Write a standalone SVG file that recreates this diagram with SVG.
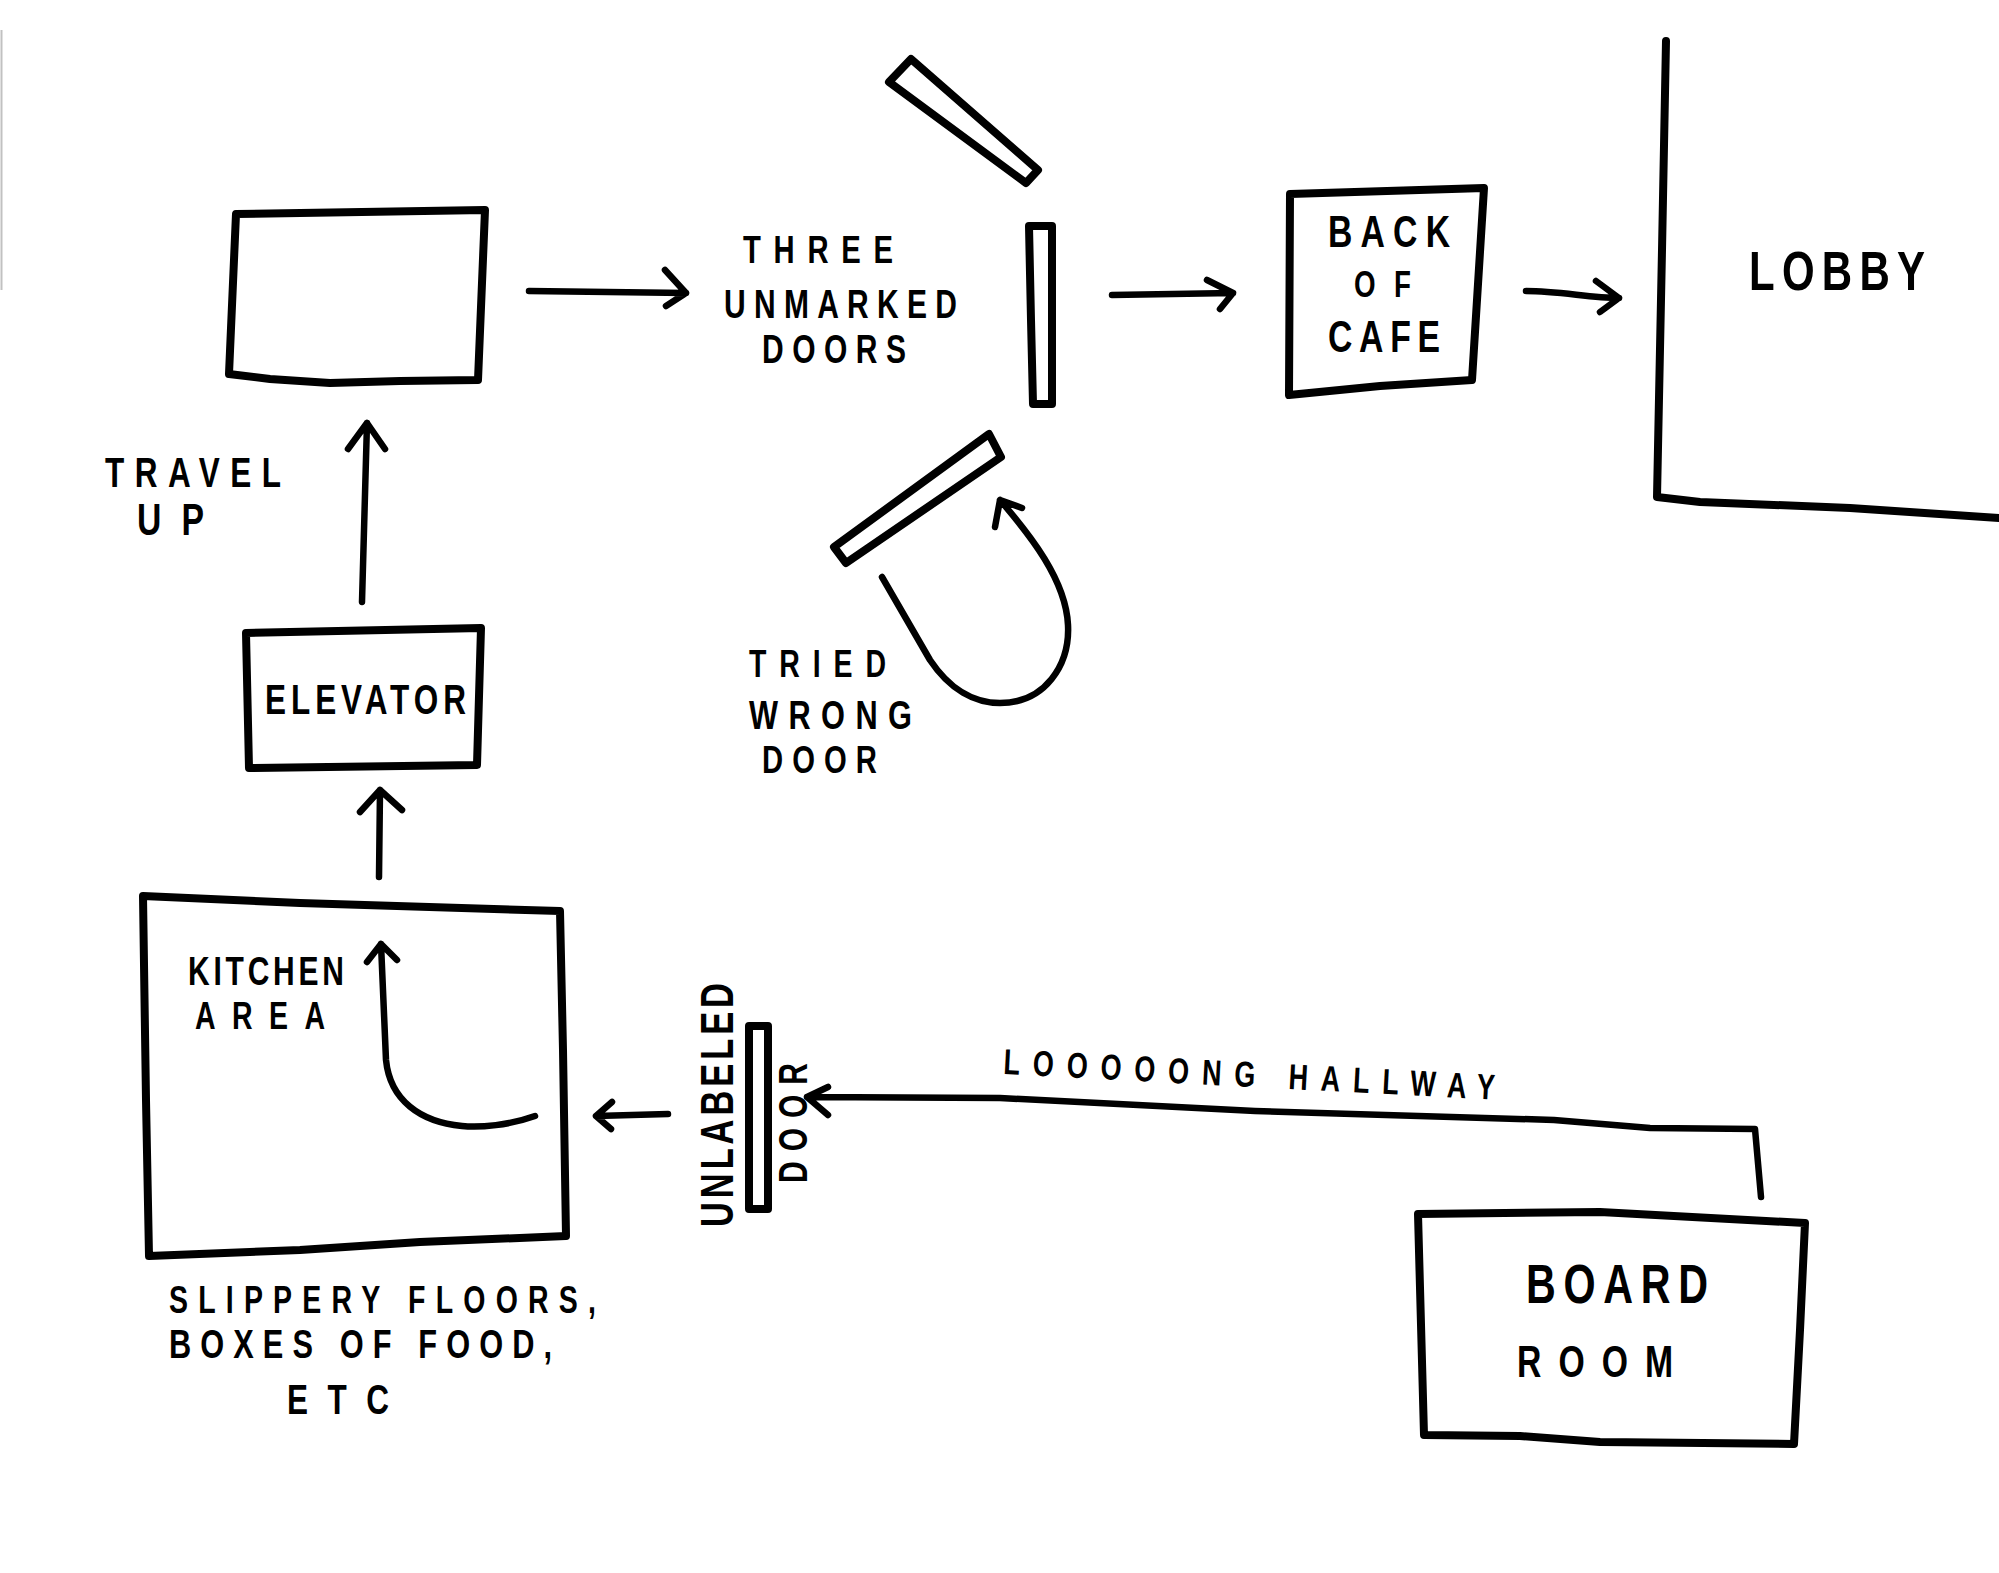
<svg xmlns="http://www.w3.org/2000/svg" width="1999" height="1573" viewBox="0 0 1999 1573">
<style>
.b{fill:none;stroke:#000;stroke-width:8;stroke-linejoin:round;stroke-linecap:round}
.c{fill:none;stroke:#000;stroke-width:6.5;stroke-linejoin:round;stroke-linecap:round}
.t{font-family:"Liberation Sans","DejaVu Sans",Arial,sans-serif;font-weight:bold;fill:#000}
</style>
<rect width="1999" height="1573" fill="#fff"/>
<line x1="1.5" y1="30" x2="1.5" y2="290" stroke="#999" stroke-width="2" opacity="0.6"/>

<g id="floor-box">
<path class="b" d="M236,214 L485,210 L478,380 L400,381 L330,383 L270,379 L229,374 Z"/>
</g>

<g id="three-doors-label" transform="scale(0.75,1)">
<text class="t" x="990.7" y="263" font-size="39" textLength="200" lengthAdjust="spacing">THREE</text>
<text class="t" x="965.3" y="318" font-size="40" textLength="310.7" lengthAdjust="spacing">UNMARKED</text>
<text class="t" x="1016" y="363" font-size="40" textLength="192" lengthAdjust="spacing">DOORS</text>
</g>

<g id="door-top">
<path class="b" d="M911,59 L1038,170 L1026,183 L889,82 Z"/>
</g>
<g id="door-middle">
<path class="b" d="M1029,226 L1052,226 L1052,404 L1033,404 L1031,320 Z"/>
</g>
<g id="door-bottom">
<path class="b" d="M834,547 L846,563 L1001,457 L989,434 Z"/>
</g>

<g id="tried-wrong-door-label" transform="scale(0.75,1)">
<text class="t" x="998.7" y="677" font-size="38" textLength="182.7" lengthAdjust="spacing">TRIED</text>
<text class="t" x="998.7" y="729" font-size="41" textLength="217.3" lengthAdjust="spacing">WRONG</text>
<text class="t" x="1016" y="773" font-size="39" textLength="153.3" lengthAdjust="spacing">DOOR</text>
</g>

<g id="back-of-cafe">
<path class="b" d="M1290,194 L1484,188 L1472,380 L1380,386 L1289,395 Z"/>
<g transform="scale(0.75,1)">
<text class="t" x="1770.7" y="247" font-size="45" textLength="162.7" lengthAdjust="spacing">BACK</text>
<text class="t" x="1805.3" y="297" font-size="37" textLength="76" lengthAdjust="spacing">OF</text>
<text class="t" x="1770.7" y="352" font-size="45" textLength="149.3" lengthAdjust="spacing">CAFE</text>
</g>
</g>

<g id="lobby">
<path class="b" d="M1666,41 L1662,250 L1657,497 L1700,502 L1850,508 L1999,518"/>
<text class="t" transform="scale(0.75,1)" x="2332" y="290" font-size="56" textLength="234.7" lengthAdjust="spacing">LOBBY</text>
</g>

<g id="travel-up-label" transform="scale(0.75,1)">
<text class="t" x="140" y="487" font-size="42" textLength="234.7" lengthAdjust="spacing">TRAVEL</text>
<text class="t" x="182.7" y="535" font-size="45" textLength="89.3" lengthAdjust="spacing">UP</text>
</g>

<g id="elevator">
<path class="b" d="M246,633 L481,628 L477,765 L249,768 Z"/>
<text class="t" transform="scale(0.75,1)" x="353.3" y="714" font-size="42" textLength="268" lengthAdjust="spacing">ELEVATOR</text>
</g>

<g id="kitchen-area">
<path class="b" d="M143,896 L300,903 L560,911 L563,1050 L566,1236 L420,1242 L300,1250 L149,1256 L146,1100 Z"/>
<g transform="scale(0.75,1)">
<text class="t" x="250.7" y="985" font-size="40" textLength="208" lengthAdjust="spacing">KITCHEN</text>
<text class="t" x="260" y="1029" font-size="38" textLength="173.3" lengthAdjust="spacing">AREA</text>
</g>
</g>

<g id="kitchen-note" transform="scale(0.75,1)">
<text class="t" x="225.3" y="1313" font-size="38" textLength="569.3" lengthAdjust="spacing">SLIPPERY FLOORS,</text>
<text class="t" x="225.3" y="1358" font-size="41" textLength="510.7" lengthAdjust="spacing">BOXES OF FOOD,</text>
<text class="t" x="382.7" y="1414" font-size="42" textLength="136" lengthAdjust="spacing">ETC</text>
</g>

<g id="unlabeled-door">
<rect class="b" x="749" y="1026" width="19" height="183"/>
<text class="t" transform="translate(733,1227) rotate(-90) scale(0.75,1)" x="0" y="0" font-size="46" textLength="325.3" lengthAdjust="spacing">UNLABELED</text>
<text class="t" transform="translate(807,1183) rotate(-90) scale(0.75,1)" x="0" y="0" font-size="40" textLength="160" lengthAdjust="spacing">DOOR</text>
</g>

<g id="hallway-label">
<text class="t" transform="translate(1003,1074) rotate(3) scale(0.75,1)" x="0" y="0" font-size="36" textLength="656" lengthAdjust="spacing">LOOOOONG HALLWAY</text>
</g>

<g id="board-room">
<path class="b" d="M1418,1214 L1600,1212 L1805,1223 L1800,1330 L1794,1444 L1600,1442 L1520,1436 L1424,1435 Z"/>
<g transform="scale(0.75,1)">
<text class="t" x="2034.7" y="1303" font-size="55" textLength="242.7" lengthAdjust="spacing">BOARD</text>
<text class="t" x="2022.7" y="1377" font-size="45" textLength="208" lengthAdjust="spacing">ROOM</text>
</g>
</g>

<g id="connectors">
<path class="c" d="M529,291 L686,293 M665,270 L686,293 L666,306"/>
<path class="c" d="M1112,295 L1233,293 M1207,280 L1233,293 L1220,309"/>
<path class="c" d="M1526,291 C1560,291 1590,298 1619,298 M1596,281 L1619,298 L1600,312"/>
<path class="c" d="M362,602 L367,423 M348,449 L367,423 L385,449"/>
<path class="c" d="M379,877 L380,790 M360,812 L380,790 L402,810"/>
<path class="c" d="M882,577 L930,660 C950,690 975,703 1000,703 C1045,703 1070,665 1068,625 C1066,580 1030,535 1000,500 M1022,508 L1000,500 L995,527"/>
<path class="c" d="M535,1116 C510,1125 480,1128 462,1126 C420,1122 390,1100 386,1060 L381,944 M367,962 L381,944 L397,960"/>
<path class="c" d="M668,1114 L596,1116 M612,1102 L596,1116 L611,1129"/>
<path class="c" d="M1761,1197 L1755,1129 L1650,1128 L1554,1120 L1255,1111 L1000,1098 L807,1097 M828,1087 L807,1097 L828,1115"/>
</g>
</svg>
